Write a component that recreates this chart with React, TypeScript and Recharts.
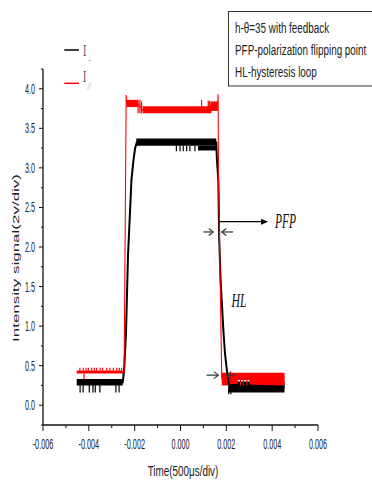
import React from 'react';
import {
  LineChart,
  Line,
  XAxis,
  YAxis,
  ReferenceArea,
  ReferenceLine,
  ReferenceDot,
} from 'recharts';

const W = 372;
const H = 482;

// Axis ticks: majors every 2 ms / 0.5 div, minors in between
const xTicks = [-0.006, -0.005, -0.004, -0.003, -0.002, -0.001, 0, 0.001, 0.002, 0.003, 0.004, 0.005, 0.006];
const yTicks = [-0.25, 0, 0.25, 0.5, 0.75, 1, 1.25, 1.5, 1.75, 2, 2.25, 2.5, 2.75, 3, 3.25, 3.5, 3.75, 4, 4.25];

// I⊥ trace (time in s, signal in div)
const perpTime = [
  -0.0045, -0.00252, -0.00246, -0.00238, -0.00229, -0.00214, -0.00205, -0.00198, -0.00191,
  0.00156, 0.00159, 0.00165, 0.00169, 0.00175, 0.00187, 0.00194, 0.00202, 0.00211, 0.00454,
];
const perpSignal = [
  0.29, 0.29, 0.45, 0.9, 1.9, 2.85, 3.1, 3.25, 3.32,
  3.32, 3.1, 2.85, 2.09, 1.58, 0.95, 0.66, 0.45, 0.26, 0.23,
];

// I// trace
const parTime = [
  -0.0045, -0.00246, -0.00237, -0.00235, -0.00186, -0.00165, 0.00125, 0.0013, 0.00162,
  0.00164, 0.00166, 0.0018, 0.00454,
];
const parSignal = [
  0.42, 0.42, 3.92, 3.81, 3.81, 3.73, 3.73, 3.78, 3.78,
  3.93, 2.85, 0.36, 0.36,
];

// Noise envelopes: [t start, t end, low, high]
const perpBands = [
  [-0.00453, -0.00252, 0.25, 0.33],
  [-0.00193, 0.00156, 3.28, 3.37],
  [0.00076, 0.00156, 3.22, 3.28],
  [0.00208, 0.00454, 0.16, 0.3],
];
const parBands = [
  [-0.00453, -0.00246, 0.4, 0.44],
  [-0.00236, -0.00186, 3.77, 3.86],
  [-0.00165, 0.00135, 3.69, 3.78],
  [0.0013, 0.00163, 3.72, 3.84],
  [0.00178, 0.00454, 0.32, 0.41],
  [0.0018, 0.0025, 0.25, 0.32],
  [0.003, 0.00454, 0.25, 0.32],
];

// Noise spikes: [t, from, to]
const perpSpikes = [
  [-0.00438, 0.26, 0.16], [-0.00425, 0.26, 0.16], [-0.00398, 0.26, 0.16], [-0.00382, 0.26, 0.16],
  [-0.00372, 0.26, 0.16], [-0.00352, 0.26, 0.16], [-0.00282, 0.26, 0.16], [-0.00268, 0.26, 0.16],
  [-0.00018, 3.28, 3.21], [-0.00002, 3.28, 3.21], [0.00012, 3.28, 3.21], [0.00027, 3.28, 3.21],
  [0.00041, 3.28, 3.21], [0.00063, 3.28, 3.21],
  [0.0021, 0.2, 0.14], [0.0022, 0.2, 0.14],
];
const parSpikes = [
  [-0.00439, 0.44, 0.475], [-0.00424, 0.44, 0.475], [-0.00412, 0.44, 0.475], [-0.00402, 0.44, 0.475],
  [-0.00388, 0.44, 0.475], [-0.00376, 0.44, 0.475], [-0.00366, 0.44, 0.475], [-0.00351, 0.44, 0.475],
  [-0.0034, 0.44, 0.475], [-0.00322, 0.44, 0.475], [-0.00308, 0.44, 0.475], [-0.00293, 0.44, 0.475],
  [-0.00278, 0.44, 0.475], [-0.00267, 0.44, 0.475], [-0.00257, 0.44, 0.475],
  [-0.00421, 0.4, 0.33],
  [-0.00185, 3.86, 3.69], [-0.00177, 3.86, 3.69], [-0.0017, 3.84, 3.69],
  [0.00092, 3.78, 3.86], [0.00121, 3.7, 3.85], [0.00126, 3.7, 3.85],
  [0.00262, 0.32, 0.25], [0.00275, 0.32, 0.25], [0.0029, 0.32, 0.25],
];

const perpRows = perpTime.map((t, i) => ({ t, v: perpSignal[i] }));
const parRows = parTime.map((t, i) => ({ t, v: parSignal[i] }));

const FONT = '"Liberation Sans", Arial, sans-serif';
const SERIF = '"Liberation Serif", "Times New Roman", serif';
const BLACK = '#000000';
const RED = '#ff0000';
// narrow horizontal text proportion used throughout the figure
const SQUEEZE = 0.66;

function labelWidth(s: string, digit: number) {
  let w = 0;
  for (const c of s) w += c === '.' ? digit * 0.5 : c === '-' ? digit * 0.68 : digit;
  return w;
}

function XTick(props: any) {
  const { x, y, payload } = props;
  const v = payload.value as number;
  const major = Math.abs(Math.round(v * 1000)) % 2 === 0;
  const s = v.toFixed(3).replace('-0.000', '0.000');
  return (
    <g>
      <line x1={x} x2={x} y1={y} y2={y + (major ? 6 : 3)} stroke="#111" strokeWidth={1} />
      {major && (
        <text
          x={x}
          y={y + 24}
          textAnchor="middle"
          fontFamily={FONT}
          fontSize={14}
          fill="#222"
          textLength={labelWidth(s, 4)}
          lengthAdjust="spacingAndGlyphs"
        >
          {s}
        </text>
      )}
    </g>
  );
}

function YTick(props: any) {
  const { x, y, payload } = props;
  const v = payload.value as number;
  const major = Math.abs(Math.round(v * 100)) % 50 === 0;
  const s = v.toFixed(1);
  return (
    <g>
      <line x1={x - (major ? 4 : 2)} x2={x} y1={y} y2={y} stroke="#111" strokeWidth={1} />
      {major && (
        <text
          x={x - 8}
          y={y + 5}
          textAnchor="end"
          fontFamily={FONT}
          fontSize={14}
          fill="#222"
          textLength={labelWidth(s, 4)}
          lengthAdjust="spacingAndGlyphs"
        >
          {s}
        </text>
      )}
    </g>
  );
}

function arrowShape(head: 'solid' | 'open', color: string) {
  return (p: any) => {
    const { x1, y1, x2, y2 } = p;
    const dx = x2 - x1;
    const dy = y2 - y1;
    const len = Math.hypot(dx, dy) || 1;
    const ux = dx / len;
    const uy = dy / len;
    const hl = head === 'solid' ? 7 : 4.5;
    const hw = head === 'solid' ? 3 : 3.5;
    const bx = x2 - ux * hl;
    const by = y2 - uy * hl;
    const px = -uy * hw;
    const py = ux * hw;
    return (
      <g>
        <line
          x1={x1}
          y1={y1}
          x2={head === 'solid' ? bx : x2}
          y2={head === 'solid' ? by : y2}
          stroke={color}
          strokeWidth={1.2}
        />
        {head === 'solid' ? (
          <polygon points={`${x2},${y2} ${bx + px},${by + py} ${bx - px},${by - py}`} fill={color} />
        ) : (
          <polyline
            points={`${bx + px},${by + py} ${x2},${y2} ${bx - px},${by - py}`}
            fill="none"
            stroke={color}
            strokeWidth={1.1}
          />
        )}
      </g>
    );
  };
}

function textShape(txt: string, size: number, width: number) {
  return (p: any) => (
    <text
      x={p.cx}
      y={p.cy}
      fontFamily={SERIF}
      fontStyle="italic"
      fontSize={size}
      fill="#111"
      textLength={width}
      lengthAdjust="spacingAndGlyphs"
    >
      {txt}
    </text>
  );
}

// Annotation arrows: [[t0, v0], [t1, v1]]
const pfpArrow = [[0.00168, 2.32], [0.00382, 2.32]];
const pinchArrows = [
  [[0.000995, 2.19], [0.00143, 2.19]],
  [[0.0023, 2.19], [0.0018, 2.19]],
  [[0.00114, 0.38], [0.00165, 0.38]],
  [[0.00238, 0.38], [0.00202, 0.38]],
];

const noteLines = ['h-θ=35 with feedback', 'PFP-polarization flipping point', 'HL-hysteresis loop'];

export default function App() {
  return (
    <div style={{ position: 'absolute', left: 0, top: 0, width: W, height: H, background: '#fff', overflow: 'hidden' }}>
      <LineChart width={W} height={H} margin={{ top: 69, right: 54, bottom: 0, left: 0 }}>
        <XAxis
          type="number"
          dataKey="t"
          domain={[-0.006, 0.006]}
          ticks={xTicks}
          interval={0}
          height={57}
          tickSize={0}
          tickMargin={0}
          tick={<XTick />}
          axisLine={{ stroke: '#111', strokeWidth: 1.3 }}
          allowDataOverflow
        />
        <YAxis
          type="number"
          dataKey="v"
          domain={[-0.25, 4.25]}
          ticks={yTicks}
          interval={0}
          width={43}
          tickSize={0}
          tickMargin={0}
          tick={<YTick />}
          axisLine={{ stroke: '#111', strokeWidth: 1.3 }}
          allowDataOverflow
        />

        {perpBands.map(([a, b, lo, hi], i) => (
          <ReferenceArea key={`pb${i}`} x1={a} x2={b} y1={lo} y2={hi} fill={BLACK} fillOpacity={1} stroke="none" />
        ))}
        {perpSpikes.map(([t, a, b], i) => (
          <ReferenceLine key={`ps${i}`} segment={[{ x: t, y: a }, { x: t, y: b }]} stroke={BLACK} strokeWidth={1.2} />
        ))}
        <Line
          data={perpRows}
          dataKey="v"
          type="linear"
          stroke={BLACK}
          strokeWidth={2}
          dot={false}
          activeDot={false}
          isAnimationActive={false}
        />

        {parBands.map(([a, b, lo, hi], i) => (
          <ReferenceArea key={`rb${i}`} x1={a} x2={b} y1={lo} y2={hi} fill={RED} fillOpacity={1} stroke="none" />
        ))}
        {parSpikes.map(([t, a, b], i) => (
          <ReferenceLine key={`rs${i}`} segment={[{ x: t, y: a }, { x: t, y: b }]} stroke={RED} strokeWidth={1.2} />
        ))}
        <Line
          data={parRows}
          dataKey="v"
          type="linear"
          stroke={RED}
          strokeWidth={1.1}
          dot={false}
          activeDot={false}
          isAnimationActive={false}
        />

        <ReferenceLine
          segment={pfpArrow.map(([x, y]) => ({ x, y }))}
          shape={arrowShape('solid', '#000')}
        />
        {pinchArrows.map((seg, i) => (
          <ReferenceLine
            key={`pa${i}`}
            segment={seg.map(([x, y]) => ({ x, y }))}
            shape={arrowShape('open', '#333')}
          />
        ))}
        <ReferenceDot x={0.00412} y={2.24} r={0} shape={textShape('PFP', 20, 21)} />
        <ReferenceDot x={0.00223} y={1.245} r={0} shape={textShape('HL', 18, 15)} />
      </LineChart>

      <svg
        width={W}
        height={H}
        style={{ position: 'absolute', left: 0, top: 0, pointerEvents: 'none' }}
      >
        {/* legend */}
        <line x1={64.3} x2={79} y1={50} y2={50} stroke={BLACK} strokeWidth={1.5} />
        <text x={83.2} y={55.5} fontFamily={SERIF} fontSize={17} fill="#333" textLength={2.8} lengthAdjust="spacingAndGlyphs">I</text>
        <text x={87.6} y={60.5} fontFamily={FONT} fontSize={9} fill="#999" textLength={3.2} lengthAdjust="spacingAndGlyphs">⊥</text>
        <line x1={64.3} x2={79} y1={83.3} y2={83.3} stroke={RED} strokeWidth={1.5} />
        <text x={83.2} y={82} fontFamily={SERIF} fontSize={17} fill="#333" textLength={2.8} lengthAdjust="spacingAndGlyphs">I</text>
        <text x={87.4} y={89.5} fontFamily={SERIF} fontStyle="italic" fontSize={10} fill="#999" textLength={3.4} lengthAdjust="spacingAndGlyphs">//</text>

        {/* notes box */}
        <rect x={228.5} y={11.5} width={160} height={74.5} fill="#fff" stroke="#333" strokeWidth={1} />
        {noteLines.map((s, i) => (
          <text
            key={s}
            transform={`translate(235,${33.3 + i * 21.7}) scale(${SQUEEZE},1)`}
            fontFamily={FONT}
            fontSize={15}
            fill="#222"
          >
            {s}
          </text>
        ))}

        {/* axis titles */}
        <text
          transform={`translate(183,476) scale(${SQUEEZE},1)`}
          textAnchor="middle"
          fontFamily={FONT}
          fontSize={15}
          fill="#222"
        >
          Time(500μs/div)
        </text>
        <text
          transform="translate(19,258) scale(0.55,1) rotate(-90)"
          textAnchor="middle"
          fontFamily={FONT}
          fontSize={17}
          fill="#222"
        >
          Intensity signal(2v/div)
        </text>
      </svg>
    </div>
  );
}
